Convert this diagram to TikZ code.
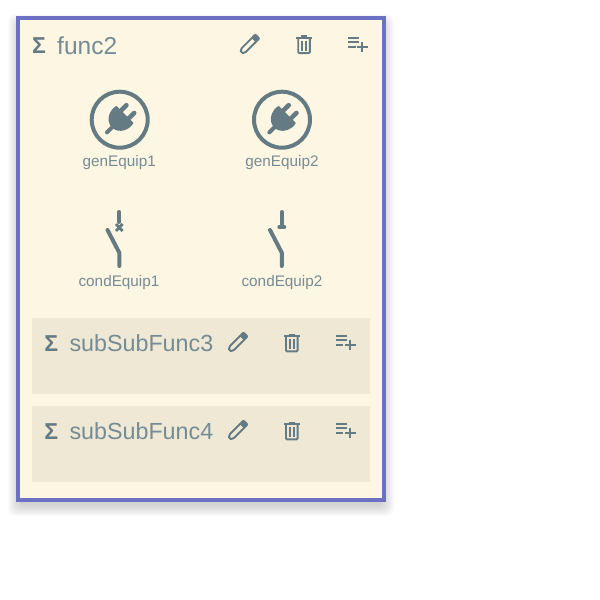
\documentclass[tikz,border=0pt]{standalone}
\usepackage{fontspec}
\setmainfont{Liberation Sans}
\usetikzlibrary{positioning}
\definecolor{cardbg}{HTML}{FDF6E3}
\definecolor{subbg}{HTML}{EEE8D5}
\definecolor{cardline}{HTML}{6C71C4}
\definecolor{iconink}{HTML}{657B83}
\definecolor{labelink}{HTML}{768B93}
\tikzset{
  cardbox/.style={draw=cardline, fill=cardbg, line width=4pt},
  subbox/.style={draw=none, fill=subbg},
  titletext/.style={anchor=base west, inner sep=0pt, text=labelink, font=\fontsize{23.3}{26}\selectfont},
  equiptext/.style={anchor=base, inner sep=0pt, text=labelink, font=\fontsize{15.3}{18}\selectfont},
  sumtext/.style={inner sep=0pt, text=iconink, font=\bfseries\fontsize{23}{24}\selectfont},
  iconline/.style={draw=iconink, line width=1.9pt},
  swline/.style={draw=iconink, line width=4pt, line cap=round, line join=round},
  pencilicon/.pic={
    \begin{scope}[rotate=45]
      \draw[iconline, line join=round] (-11,-1.5) -- (-8,-2.8) -- (7,-2.8) -- (7,2.8) -- (-8,2.8) -- (-11,1.5) -- cycle;
      \fill[iconink, rounded corners=2pt] (6,-3.8) rectangle (12,3.8);
    \end{scope}
  },
  binicon/.pic={
    \draw[iconline, rounded corners=1pt] (-5.8,-6.5) -- (-5.8,8.4) -- (5.8,8.4) -- (5.8,-6.5);
    \draw[iconline] (-8,-7) -- (8,-7);
    \draw[iconline] (-3,-8.3) -- (3,-8.3);
    \draw[iconline] (-2.2,-4) -- (-2.2,6) (2.2,-4) -- (2.2,6);
  },
  addicon/.pic={
    \draw[iconline] (-10,-6.7) -- (1,-6.7) (-10,-2.7) -- (1,-2.7) (-10,1.7) -- (-2.3,1.7);
    \draw[iconline] (-1,1.7) -- (10,1.7) (4.3,-2.7) -- (4.3,6.7);
  },
  plugicon/.pic={
    \draw[draw=iconink, line width=4pt] (0,0) circle[radius=28];
    \begin{scope}[rotate=-45]
      \fill[iconink] (-12,-7.5) -- (12,-7.5) .. controls (14.5,-1) and (10,11) .. (0,11) .. controls (-10,11) and (-14.5,-1) .. (-12,-7.5) -- cycle;
      \draw[draw=iconink, line width=4.6pt, line cap=round] (-5.5,-6) -- (-5.5,-15) (5.5,-6) -- (5.5,-15);
      \draw[draw=iconink, line width=4pt, line cap=round] (0,9) -- (0,18);
    \end{scope}
  }
}
\begin{document}
\begin{tikzpicture}[x=1pt,y=-1pt]
  \useasboundingbox (0,0) rectangle (600,600);
  \foreach \spread in {-3,-2,...,8}
    \fill[black, opacity=0.014, rounded corners=7pt] (16-\spread,22-\spread) rectangle (386+\spread,508+\spread);
  \path[cardbox] (18,18) rectangle (383.7,499.8);
  \fill[subbox] (32,318) rectangle (369.7,394);
  \fill[subbox] (32,406) rectangle (369.7,482);

  % header of the card
  \node[sumtext] (sumMain) at (39,46) {Σ};
  \node[titletext, font=\fontsize{24.5}{26}\selectfont] (titleMain) at (57,54) {func2};
  \pic at (249.5,44.3) {pencilicon};
  \pic at (304,44.7) {binicon};
  \pic at (358,45) {addicon};

  % equipments
  \pic at (119.7,119.7) {plugicon};
  \pic at (282,119.7) {plugicon};
  \node[equiptext] (genOne) at (119.2,166.7) {genEquip1};
  \node[equiptext] (genTwo) at (282,166.7) {genEquip2};

  \draw[swline] (119.3,212) -- (119.3,222);
  \draw[draw=iconink, line width=2.8pt] (116,224) -- (122.6,231) (122.6,224) -- (116,231);
  \draw[swline] (107.5,230) -- (119.3,252.7) -- (119.3,266);
  \draw[swline] (281.8,212) -- (281.8,226.5);
  \draw[swline] (279.3,227) -- (284.3,227);
  \draw[swline] (270,230) -- (281.8,252.7) -- (281.8,266);
  \node[equiptext] (condOne) at (119,286) {condEquip1};
  \node[equiptext] (condTwo) at (282,286) {condEquip2};

  % sub functions
  \foreach \rowy/\rowname in {0/subSubFunc3,88/subSubFunc4} {
    \node[sumtext] (sum\rowname) at (51.3,344+\rowy) {Σ};
    \node[titletext] (title\rowname) at (69.3,351.7+\rowy) {\rowname};
    \pic at (237.7,342.3+\rowy) {pencilicon};
    \pic at (291.8,343+\rowy) {binicon};
    \pic at (345.7,343+\rowy) {addicon};
  }
\end{tikzpicture}
\end{document}
